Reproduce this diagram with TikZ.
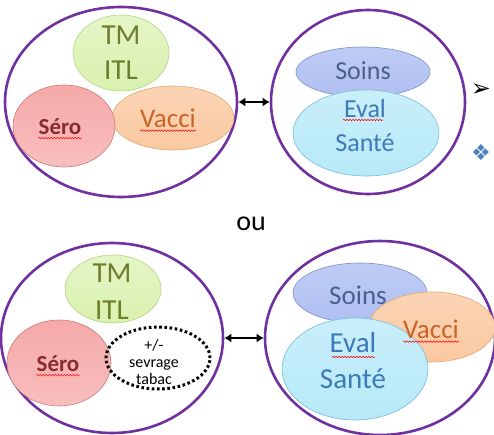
\documentclass[tikz,border=0pt]{standalone}
\usepackage{fontspec}
\setmainfont{Carlito}
\newfontfamily\symfont{DejaVu Sans}
\usetikzlibrary{shapes.geometric,arrows.meta,decorations.pathmorphing}
\definecolor{violet}{HTML}{7030A0}
\definecolor{vertF}{HTML}{D9F1AE}\definecolor{vertB}{HTML}{B5D482}\definecolor{vertT}{HTML}{6E7D2B}
\definecolor{roseF}{HTML}{F6A9A9}\definecolor{roseB}{HTML}{C97C7C}\definecolor{roseT}{HTML}{8A2C2C}
\definecolor{orangeF}{HTML}{FAC9A1}\definecolor{orangeB}{HTML}{E2A673}\definecolor{orangeT}{HTML}{C8642A}
\definecolor{bleuF}{HTML}{AFBFF2}\definecolor{bleuB}{HTML}{7F8FC8}\definecolor{bleuT}{HTML}{4B5F8F}
\definecolor{cyanF}{HTML}{B7E9F8}\definecolor{cyanB}{HTML}{78BCD9}\definecolor{cyanT}{HTML}{3D7AB8}
\definecolor{puce}{HTML}{4F81BD}
\begin{document}
\begin{tikzpicture}[x=1pt,y=-1pt,
    groupe/.style={ellipse,draw=violet,line width=2.6pt,inner sep=0pt},
    bulle/.style={ellipse,line width=0.6pt,inner sep=0pt},
    tmitl/.style={bulle,draw=vertB,top color=vertF!70!white,bottom color=vertF},
    sero/.style={bulle,draw=roseB,top color=roseF,bottom color=roseF!75!white},
    vacci/.style={bulle,draw=orangeB,top color=orangeF!80!white,bottom color=orangeF},
    soins/.style={bulle,draw=bleuB,top color=bleuF!80!white,bottom color=bleuF},
    evalsante/.style={bulle,draw=cyanB,top color=cyanF!75!white,bottom color=cyanF},
    txt/.style={inner sep=0pt,align=center},
    faute/.style={draw=red,line width=0.5pt,decorate,decoration={snake,amplitude=0.8pt,segment length=3pt}},
    fleche/.style={{Latex[length=7pt,width=9pt]}-{Latex[length=7pt,width=9pt]},line width=2.3pt}]
\useasboundingbox (0,0) rectangle (494,435);
% haut gauche
\node[groupe,minimum width=232pt,minimum height=190pt] (g1) at (121,102) {};
\node[tmitl,minimum width=96pt,minimum height=76pt] (tm1) at (121,53) {};
\node[vacci,minimum width=122pt,minimum height=64pt] (va1) at (173,118) {};
\node[sero,minimum width=102pt,minimum height=82pt] (se1) at (64,126) {};
\node[txt,text=vertT,font=\fontsize{29}{35}\selectfont] at (tm1) {TM\\ITL};
\node[txt,text=roseT,font=\fontsize{23}{28}\selectfont\bfseries] (tse1) at (60,127) {Séro};
\node[txt,text=orangeT,font=\fontsize{27}{31}\selectfont] (tva1) at (168,118) {Vacci};
\draw[faute] ([yshift=-3pt]tse1.south west) -- ([yshift=-3pt]tse1.south east);
\draw[faute] ([yshift=-3pt]tva1.south west) -- ([yshift=-3pt]tva1.south east);
% haut droite
\node[groupe,minimum width=194pt,minimum height=184pt] (d1) at (368,102) {};
\node[soins,minimum width=134pt,minimum height=50pt] (so1) at (363,72) {};
\node[evalsante,minimum width=146pt,minimum height=86pt] (ev1) at (366,133) {};
\node[txt,text=bleuT,font=\fontsize{26}{31}\selectfont] at (363,71) {Soins};
\node[txt,text=cyanT,font=\fontsize{26}{34}\selectfont] (tev1) at (365,126) {Eval\\Santé};
\draw[faute] (343,120) -- (383,120);
\draw[fleche] (g1.east) -- (d1.west);
% puces
\node[txt,font=\symfont\fontsize{24}{26}\selectfont] (p1) at (481,90) {➢};
\node[txt,text=puce,font=\symfont\fontsize{22}{26}\selectfont] (p2) at (481,153) {❖};
\node[txt,font=\fontsize{28}{34}\selectfont] (ou) at (251,224) {ou};
% bas gauche
\node[groupe,minimum width=222pt,minimum height=190pt] (g2) at (112,338) {};
\node[tmitl,minimum width=96pt,minimum height=68pt] (tm2) at (113,289) {};
\node[sero,minimum width=104pt,minimum height=86pt] (se2) at (59,363) {};
\node[ellipse,draw,line width=3pt,dash pattern=on 2.6pt off 2.6pt,minimum width=104pt,minimum height=62pt,inner sep=0pt] (tab) at (158,358) {};
\node[txt,text=vertT,font=\fontsize{29}{37}\selectfont] at (112,292) {TM\\ITL};
\node[txt,text=roseT,font=\fontsize{23}{28}\selectfont\bfseries] (tse2) at (58,364) {Séro};
\draw[faute] ([yshift=-3pt]tse2.south west) -- ([yshift=-3pt]tse2.south east);
\node[txt,font=\fontsize{16}{17}\selectfont] at (154,362) {+/-\\sevrage\\tabac};
% bas droite
\node[groupe,minimum width=230pt,minimum height=194pt] (d2) at (380,338) {};
\node[soins,minimum width=134pt,minimum height=60pt] (so2) at (360,293) {};
\node[vacci,minimum width=126pt,minimum height=70pt] (va2) at (432,327) {};
\node[evalsante,minimum width=146pt,minimum height=102pt] (ev2) at (355,369) {};
\node[txt,text=bleuT,font=\fontsize{27}{32}\selectfont] at (358,295) {Soins};
\node[txt,text=orangeT,font=\fontsize{27}{32}\selectfont] (tva2) at (431,329) {Vacci};
\draw[faute] ([yshift=-3pt]tva2.south west) -- ([yshift=-3pt]tva2.south east);
\node[txt,text=cyanT,font=\fontsize{29}{36}\selectfont] at (353,361) {Eval\\Santé};
\draw[faute] (332,357) -- (375,357);
\draw[fleche] (g2.east) -- (d2.west);
\end{tikzpicture}
\end{document}
